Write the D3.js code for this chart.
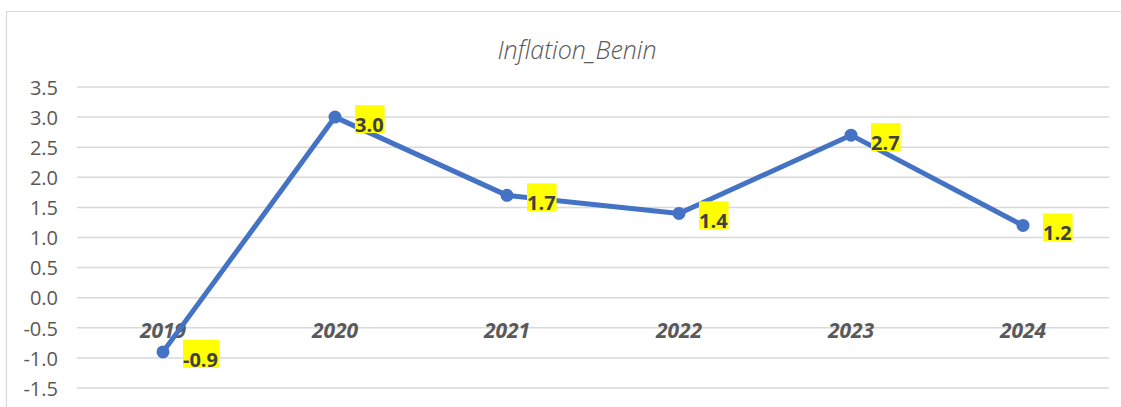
<!DOCTYPE html>
<html><head><meta charset="utf-8">
<script src="https://cdn.jsdelivr.net/npm/d3@7"></script>
<style>body{margin:0;background:#fff;}svg{display:block;}</style>
</head><body>
<svg id="c" width="1121" height="407"></svg>
<script>
const years = ["2019","2020","2021","2022","2023","2024"];
const inflation = [-0.9, 3.0, 1.7, 1.4, 2.7, 1.2];
const yTicks = [-1.5,-1.0,-0.5,0.0,0.5,1.0,1.5,2.0,2.5,3.0,3.5];
const title = "Inflation_Benin";

const FONT = "'Open Sans', 'Noto Sans', sans-serif";
const loc = d3.formatLocale({decimal:".", thousands:",", grouping:[3], currency:["",""], minus:"-"});
const fmt = loc.format(".1f");

const svg = d3.select("#c");
// chart area border
svg.append("path").attr("d","M6.5,407 V11.5 H1121").attr("fill","none").attr("stroke","#d9d9d9").attr("stroke-width",1.2);

const x = d3.scaleBand().domain(years).range([77,1109]);
const y = d3.scaleLinear().domain([-1.5,3.5]).range([388,87]);

// gridlines
svg.append("g").selectAll("line").data(yTicks).join("line")
  .attr("x1",77).attr("x2",1109)
  .attr("y1",d=>y(d)).attr("y2",d=>y(d))
  .attr("stroke","#d9d9d9").attr("stroke-width",1.5);

// y axis labels
const yAxis = d3.axisLeft(y).tickValues(yTicks).tickFormat(fmt).tickSize(0).tickPadding(0);
const ya = svg.append("g").attr("transform","translate(58,0)").call(yAxis);
ya.select(".domain").remove();
ya.selectAll("text").attr("font-family",FONT).attr("font-size",20).attr("fill","#595959").attr("dy","0.36em");

// category labels
const xAxis = d3.axisBottom(x).tickSize(0).tickPadding(0);
const xa = svg.append("g").attr("transform","translate(0,"+(y(0)+25)+")").call(xAxis);
xa.select(".domain").remove();
xa.selectAll("text").attr("font-family",FONT).attr("font-size",21).attr("font-weight","bold").attr("font-style","italic").attr("fill","#595959");

// title
svg.append("text").attr("x",577).attr("y",59).attr("text-anchor","middle")
  .attr("font-family",FONT).attr("font-style","italic").attr("font-weight",300)
  .attr("font-size",25).attr("fill","#595959").text(title);

const cx = (d,i)=>x(years[i])+x.bandwidth()/2;
const line = d3.line().x((d,i)=>cx(d,i)).y(d=>y(d));
svg.append("path").datum(inflation).attr("d",line).attr("fill","none")
  .attr("stroke","#4472C4").attr("stroke-width",5).attr("stroke-linejoin","round");
svg.append("g").selectAll("circle").data(inflation).join("circle")
  .attr("cx",cx).attr("cy",d=>y(d)).attr("r",6.5).attr("fill","#4472C4");

// data labels
const lg = svg.append("g").selectAll("g").data(inflation).join("g")
  .attr("transform",(d,i)=>`translate(${cx(d,i)+20},${y(d)})`);
lg.each(function(d){
  const g = d3.select(this);
  const t = g.append("text").attr("x",0).attr("y",15)
    .attr("font-family",FONT).attr("font-size",20).attr("font-weight","bold")
    .attr("fill","#404040").text(fmt(d));
  const w = t.node().getComputedTextLength();
  g.insert("rect","text").attr("x",0).attr("y",-12).attr("width",w+1).attr("height",28).attr("fill","#ffff00");
});
</script>
</body></html>
